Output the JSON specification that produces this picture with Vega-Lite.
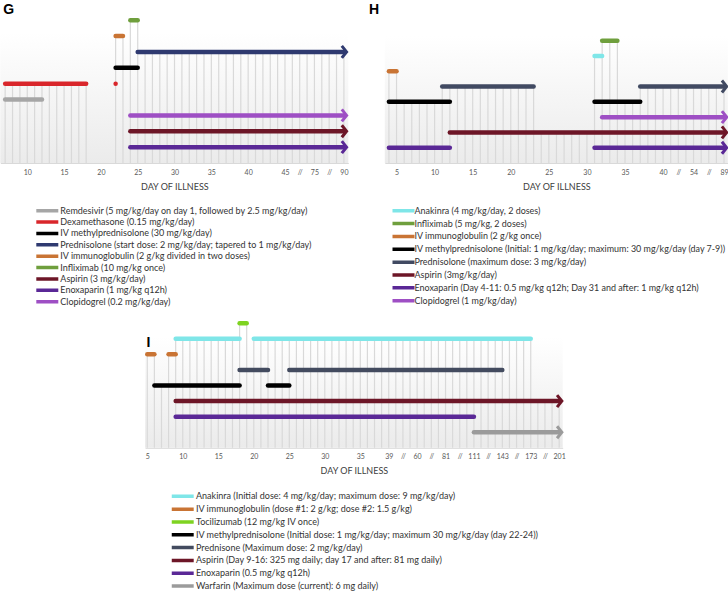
{
"$schema":"https://vega.github.io/schema/vega-lite/v6.json",
"padding":0,
"background":"white",
"config":{"view":{"stroke":null},"font":"Lato",
 "axisX":{"grid":false,"ticks":false,"domainColor":"#d9d9d9","labelFontSize":7,"labelColor":"#595959","labelPadding":5,"titleFontSize":9,"titleFontWeight":"normal","titleColor":"#404040","titlePadding":7,"labelFlush":false,"labelOverlap":false,"labelBound":false,"tickCount":200,"format":"d","labelFont":"Lato","titleFont":"Lato"},
 "legend":{"orient":"none","title":null,"symbolType":"M-4.4,0H4.4","symbolSize":25,"symbolStrokeWidth":3.5,"symbolOffset":7,"labelFontSize":9,"labelFont":"Lato","labelColor":"#333333","labelLimit":0,"padding":0,"clipHeight":11}},
"datasets":{
"bG":[
{"k":"Remdesivir (5 mg/kg/day on day 1, followed by 2.5 mg/kg/day)","s":7,"e":12,"r":4,"a":0},
{"k":"Dexamethasone (0.15 mg/kg/day)","s":7,"e":18,"r":5,"a":0},
{"k":"Dexamethasone (0.15 mg/kg/day)","s":22,"e":22,"r":5,"a":0},
{"k":"IV methylprednisolone (30 mg/kg/day)","s":22,"e":25,"r":6,"a":0},
{"k":"Prednisolone (start dose: 2 mg/kg/day; tapered to 1 mg/kg/day)","s":25,"e":53,"r":7,"a":1},
{"k":"IV immunoglobulin (2 g/kg divided in two doses)","s":22,"e":23,"r":8,"a":0},
{"k":"Infliximab (10 mg/kg once)","s":24,"e":25,"r":9,"a":0},
{"k":"Aspirin (3 mg/kg/day)","s":24,"e":53,"r":2,"a":1},
{"k":"Enoxaparin (1 mg/kg q12h)","s":24,"e":53,"r":1,"a":1},
{"k":"Clopidogrel (0.2 mg/kg/day)","s":24,"e":53,"r":3,"a":1}],
"bH":[
{"k":"Anakinra (4 mg/kg/day, 2 doses)","s":31,"e":32,"r":7,"a":0},
{"k":"Infliximab (5 mg/kg, 2 doses)","s":32,"e":34,"r":8,"a":0},
{"k":"IV immunoglobulin (2 g/kg once)","s":4,"e":5,"r":6,"a":0},
{"k":"IV methylprednisolone (Initial: 1 mg/kg/day; maximum: 30 mg/kg/day (day 7-9))","s":4,"e":12,"r":4,"a":0},
{"k":"IV methylprednisolone (Initial: 1 mg/kg/day; maximum: 30 mg/kg/day (day 7-9))","s":31,"e":37,"r":4,"a":0},
{"k":"Prednisolone (maximum dose: 3 mg/kg/day)","s":11,"e":23,"r":5,"a":0},
{"k":"Prednisolone (maximum dose: 3 mg/kg/day)","s":37,"e":48,"r":5,"a":1},
{"k":"Aspirin (3mg/kg/day)","s":12,"e":48,"r":2,"a":1},
{"k":"Enoxaparin (Day 4-11: 0.5 mg/kg q12h; Day 31 and after: 1 mg/kg q12h)","s":4,"e":12,"r":1,"a":0},
{"k":"Enoxaparin (Day 4-11: 0.5 mg/kg q12h; Day 31 and after: 1 mg/kg q12h)","s":31,"e":48,"r":1,"a":1},
{"k":"Clopidogrel (1 mg/kg/day)","s":32,"e":48,"r":3,"a":1}],
"bI":[
{"k":"Anakinra (Initial dose: 4 mg/kg/day; maximum dose: 9 mg/kg/day)","s":9,"e":18,"r":7,"a":0},
{"k":"Anakinra (Initial dose: 4 mg/kg/day; maximum dose: 9 mg/kg/day)","s":20,"e":59,"r":7,"a":0},
{"k":"IV immunoglobulin (dose #1: 2 g/kg; dose #2: 1.5 g/kg)","s":5,"e":6,"r":6,"a":0},
{"k":"IV immunoglobulin (dose #1: 2 g/kg; dose #2: 1.5 g/kg)","s":8,"e":9,"r":6,"a":0},
{"k":"Tocilizumab (12 mg/kg IV once)","s":18,"e":19,"r":8,"a":0},
{"k":"IV methylprednisolone (Initial dose: 1 mg/kg/day; maximum 30 mg/kg/day (day 22-24))","s":6,"e":18,"r":4,"a":0},
{"k":"IV methylprednisolone (Initial dose: 1 mg/kg/day; maximum 30 mg/kg/day (day 22-24))","s":22,"e":25,"r":4,"a":0},
{"k":"Prednisone (Maximum dose: 2 mg/kg/day)","s":18,"e":22,"r":5,"a":0},
{"k":"Prednisone (Maximum dose: 2 mg/kg/day)","s":25,"e":55,"r":5,"a":0},
{"k":"Aspirin (Day 9-16: 325 mg daily; day 17 and after: 81 mg daily)","s":9,"e":63,"r":3,"a":1},
{"k":"Enoxaparin (0.5 mg/kg q12h)","s":9,"e":51,"r":2,"a":0},
{"k":"Warfarin (Maximum dose (current): 6 mg daily)","s":51,"e":63,"r":1,"a":1}],
"dG":[{"d":7,"t":5},{"d":8,"t":5},{"d":9,"t":5},{"d":10,"t":5},{"d":11,"t":5},{"d":12,"t":5},{"d":13,"t":5},{"d":14,"t":5},{"d":15,"t":5},{"d":16,"t":5},{"d":17,"t":5},{"d":18,"t":5},
{"d":22,"t":8},{"d":23,"t":8},{"d":24,"t":9},{"d":25,"t":9},
{"d":26,"t":7},{"d":27,"t":7},{"d":28,"t":7},{"d":29,"t":7},{"d":30,"t":7},{"d":31,"t":7},{"d":32,"t":7},{"d":33,"t":7},{"d":34,"t":7},{"d":35,"t":7},{"d":36,"t":7},{"d":37,"t":7},{"d":38,"t":7},{"d":39,"t":7},{"d":40,"t":7},{"d":41,"t":7},{"d":42,"t":7},{"d":43,"t":7},{"d":44,"t":7},{"d":45,"t":7},{"d":46,"t":7},{"d":47,"t":7},{"d":48,"t":7},{"d":49,"t":7},{"d":50,"t":7},{"d":51,"t":7},{"d":52,"t":7},{"d":53,"t":7}],
"dH":[{"d":4,"t":6},{"d":5,"t":6},{"d":6,"t":4},{"d":7,"t":4},{"d":8,"t":4},{"d":9,"t":4},{"d":10,"t":4},
{"d":11,"t":5},{"d":12,"t":5},{"d":13,"t":5},{"d":14,"t":5},{"d":15,"t":5},{"d":16,"t":5},{"d":17,"t":5},{"d":18,"t":5},{"d":19,"t":5},{"d":20,"t":5},{"d":21,"t":5},{"d":22,"t":5},{"d":23,"t":5},
{"d":24,"t":2},{"d":25,"t":2},{"d":26,"t":2},{"d":27,"t":2},{"d":28,"t":2},{"d":29,"t":2},{"d":30,"t":2},
{"d":31,"t":7},{"d":32,"t":8},{"d":33,"t":8},{"d":34,"t":8},{"d":35,"t":4},{"d":36,"t":4},
{"d":37,"t":5},{"d":38,"t":5},{"d":39,"t":5},{"d":40,"t":5},{"d":41,"t":5},{"d":42,"t":5},{"d":43,"t":5},{"d":44,"t":5},{"d":45,"t":5},{"d":46,"t":5},{"d":47,"t":5},{"d":48,"t":5}],
"dI":[{"d":5,"t":6},{"d":6,"t":6},{"d":7,"t":4},{"d":8,"t":6},
{"d":9,"t":7},{"d":10,"t":7},{"d":11,"t":7},{"d":12,"t":7},{"d":13,"t":7},{"d":14,"t":7},{"d":15,"t":7},{"d":16,"t":7},{"d":17,"t":7},
{"d":18,"t":8},{"d":19,"t":8},
{"d":20,"t":7},{"d":21,"t":7},{"d":22,"t":7},{"d":23,"t":7},{"d":24,"t":7},{"d":25,"t":7},{"d":26,"t":7},{"d":27,"t":7},{"d":28,"t":7},{"d":29,"t":7},{"d":30,"t":7},{"d":31,"t":7},{"d":32,"t":7},{"d":33,"t":7},{"d":34,"t":7},{"d":35,"t":7},{"d":36,"t":7},{"d":37,"t":7},{"d":38,"t":7},{"d":39,"t":7},{"d":40,"t":7},{"d":41,"t":7},{"d":42,"t":7},{"d":43,"t":7},{"d":44,"t":7},{"d":45,"t":7},{"d":46,"t":7},{"d":47,"t":7},{"d":48,"t":7},{"d":49,"t":7},{"d":50,"t":7},{"d":51,"t":7},{"d":52,"t":7},{"d":53,"t":7},{"d":54,"t":7},{"d":55,"t":7},{"d":56,"t":7},{"d":57,"t":7},{"d":58,"t":7},{"d":59,"t":7},
{"d":60,"t":3},{"d":61,"t":3},{"d":62,"t":3},{"d":63,"t":3}]
},
"vconcat":[
{"hconcat":[
 {"width":348,"height":163,
  "layer":[
   {"data":{"values":[{}]},"mark":{"type":"rect","fill":{"gradient":"linear","x1":0,"y1":1,"x2":0,"y2":0,"stops":[{"offset":0,"color":"#ebebeb"},{"offset":1,"color":"#ffffff"}]}},
    "encoding":{"x":{"datum":6.34,"type":"quantitative","scale":{"domain":[6.34,53.6],"nice":false,"zero":false}},
     "x2":{"datum":53.6},
     "y":{"datum":8.2,"type":"quantitative","scale":{"domain":[0,10.27],"nice":false,"zero":false},"axis":null},"y2":{"datum":0}}},
   {"data":{"name":"dG"},"mark":{"type":"rule","color":"#d9d9d9","strokeWidth":1.2},
    "encoding":{"x":{"field":"d","type":"quantitative","axis":{"title":"DAY OF ILLNESS","format":"d","labelOverlap":false,"tickCount":200,"values":[10,15,20,25,30,35,40,45,47,49,51,53],"labelExpr":"datum.value==47||datum.value==51?'//':datum.value==49?'75':datum.value==53?'90':datum.label"}},"y":{"field":"t","type":"quantitative"},"y2":{"datum":0}}},
   {"data":{"name":"bG"},"mark":{"type":"rule","strokeWidth":4.5,"strokeCap":"round"},
    "encoding":{"x":{"field":"s","type":"quantitative"},"x2":{"field":"e"},"y":{"field":"r","type":"quantitative"},
     "color":{"field":"k","type":"nominal",
      "scale":{"domain":["Remdesivir (5 mg/kg/day on day 1, followed by 2.5 mg/kg/day)","Dexamethasone (0.15 mg/kg/day)","IV methylprednisolone (30 mg/kg/day)","Prednisolone (start dose: 2 mg/kg/day; tapered to 1 mg/kg/day)","IV immunoglobulin (2 g/kg divided in two doses)","Infliximab (10 mg/kg once)","Aspirin (3 mg/kg/day)","Enoxaparin (1 mg/kg q12h)","Clopidogrel (0.2 mg/kg/day)"],
       "range":["#a6a6a6","#d9262b","#000000","#2f3a70","#c97434","#6f9f3d","#6d1627","#5a2896","#9e4fc4"]},
      "legend":{"legendX":35.5,"legendY":205.2,"labelOffset":8.5,"rowPadding":0.375}}}},
   {"data":{"name":"bG"},"transform":[{"filter":"datum.a==1"}],"mark":{"type":"point","shape":"M-0.35,-1L0.45,0L-0.35,1","size":144,"strokeWidth":3,"filled":false,"opacity":1},
    "encoding":{"x":{"field":"e","type":"quantitative"},"y":{"field":"r","type":"quantitative"},"color":{"field":"k","type":"nominal","legend":null}}},
   {"data":{"values":[{}]},"mark":{"type":"text","text":"G","font":"Liberation Sans","fontSize":14,"fontWeight":"bold","align":"left","baseline":"middle"},
    "encoding":{"x":{"datum":6.75,"type":"quantitative"},"y":{"datum":9.64,"type":"quantitative"}}}
  ]},
 {"width":343,"height":163,
  "layer":[
   {"data":{"values":[{}]},"mark":{"type":"rect","fill":{"gradient":"linear","x1":0,"y1":1,"x2":0,"y2":0,"stops":[{"offset":0,"color":"#ebebeb"},{"offset":1,"color":"#ffffff"}]}},
    "encoding":{"x":{"datum":3.46,"type":"quantitative","scale":{"domain":[3.46,48.5],"nice":false,"zero":false}},
     "x2":{"datum":48.5},
     "y":{"datum":8.3,"type":"quantitative","scale":{"domain":[0,10.66],"nice":false,"zero":false},"axis":null},"y2":{"datum":0}}},
   {"data":{"name":"dH"},"mark":{"type":"rule","color":"#d9d9d9","strokeWidth":1.2},
    "encoding":{"x":{"field":"d","type":"quantitative","axis":{"title":"DAY OF ILLNESS","format":"d","labelOverlap":false,"tickCount":200,"values":[5,10,15,20,25,30,35,40,42,44,46,48],"labelExpr":"datum.value==42||datum.value==46?'//':datum.value==44?'54':datum.value==48?'89':datum.label"}},"y":{"field":"t","type":"quantitative"},"y2":{"datum":0}}},
   {"data":{"name":"bH"},"mark":{"type":"rule","strokeWidth":4.5,"strokeCap":"round"},
    "encoding":{"x":{"field":"s","type":"quantitative"},"x2":{"field":"e"},"y":{"field":"r","type":"quantitative"},
     "color":{"field":"k","type":"nominal",
      "scale":{"domain":["Anakinra (4 mg/kg/day, 2 doses)","Infliximab (5 mg/kg, 2 doses)","IV immunoglobulin (2 g/kg once)","IV methylprednisolone (Initial: 1 mg/kg/day; maximum: 30 mg/kg/day (day 7-9))","Prednisolone (maximum dose: 3 mg/kg/day)","Aspirin (3mg/kg/day)","Enoxaparin (Day 4-11: 0.5 mg/kg q12h; Day 31 and after: 1 mg/kg q12h)","Clopidogrel (1 mg/kg/day)"],
       "range":["#7fe6e8","#6f9f3d","#c97434","#000000","#414a62","#6d1627","#5a2896","#9e4fc4"]},
      "legend":{"legendX":7.2,"legendY":205.2,"labelOffset":6.5,"rowPadding":1.86,"labelFontSize":8.95}}}},
   {"data":{"name":"bH"},"transform":[{"filter":"datum.a==1"}],"mark":{"type":"point","shape":"M-0.35,-1L0.45,0L-0.35,1","size":144,"strokeWidth":3,"filled":false,"opacity":1},
    "encoding":{"x":{"field":"e","type":"quantitative"},"y":{"field":"r","type":"quantitative"},"color":{"field":"k","type":"nominal","legend":null}}},
   {"data":{"values":[{}]},"mark":{"type":"text","text":"H","font":"Liberation Sans","fontSize":14,"fontWeight":"bold","align":"left","baseline":"middle"},
    "encoding":{"x":{"datum":1.4,"type":"quantitative"},"y":{"datum":10.0,"type":"quantitative"}}}
  ]}
 ],
 "spacing":15.5,
 "resolve":{"scale":{"x":"independent","y":"independent","color":"independent"},"legend":{"color":"independent"}}
},
{"width":443,"height":130.5,
 "layer":[
   {"data":{"values":[{}]},"mark":{"type":"rect","fill":{"gradient":"linear","x1":0,"y1":1,"x2":0,"y2":0,"stops":[{"offset":0,"color":"#ebebeb"},{"offset":1,"color":"#ffffff"}]}},
    "encoding":{"x":{"datum":4.68,"type":"quantitative","scale":{"domain":[4.68,63.5],"range":[0,417.7],"nice":false,"zero":false}},
     "x2":{"datum":63.5},
     "y":{"datum":7.1,"type":"quantitative","scale":{"domain":[0,8.38],"nice":false,"zero":false},"axis":null},"y2":{"datum":0}}},
   {"data":{"name":"dI"},"mark":{"type":"rule","color":"#d9d9d9","strokeWidth":1.2},
    "encoding":{"x":{"field":"d","type":"quantitative","axis":{"title":"DAY OF ILLNESS","format":"d","labelOverlap":false,"tickCount":200,"values":[5,10,15,20,25,30,35,39,41,43,45,47,49,51,53,55,57,59,61,63],"labelExpr":"indexof([41,45,49,53,57,61],datum.value)>=0?'//':datum.value==43?'60':datum.value==47?'81':datum.value==51?'111':datum.value==55?'143':datum.value==59?'173':datum.value==63?'201':datum.label"}},"y":{"field":"t","type":"quantitative"},"y2":{"datum":0}}},
   {"data":{"name":"bI"},"mark":{"type":"rule","strokeWidth":4.5,"strokeCap":"round"},
    "encoding":{"x":{"field":"s","type":"quantitative"},"x2":{"field":"e"},"y":{"field":"r","type":"quantitative"},
     "color":{"field":"k","type":"nominal",
      "scale":{"domain":["Anakinra (Initial dose: 4 mg/kg/day; maximum dose: 9 mg/kg/day)","IV immunoglobulin (dose #1: 2 g/kg; dose #2: 1.5 g/kg)","Tocilizumab (12 mg/kg IV once)","IV methylprednisolone (Initial dose: 1 mg/kg/day; maximum 30 mg/kg/day (day 22-24))","Prednisone (Maximum dose: 2 mg/kg/day)","Aspirin (Day 9-16: 325 mg daily; day 17 and after: 81 mg daily)","Enoxaparin (0.5 mg/kg q12h)","Warfarin (Maximum dose (current): 6 mg daily)"],
       "range":["#7fe6e8","#c97434","#7ed321","#000000","#434b5f","#6d1627","#5a2896","#9b9b9b"]},
      "legend":{"legendX":26.2,"legendY":173.5,"labelOffset":8.8,"rowPadding":1.83}}}},
   {"data":{"name":"bI"},"transform":[{"filter":"datum.a==1"}],"mark":{"type":"point","shape":"M-0.35,-1L0.45,0L-0.35,1","size":144,"strokeWidth":3,"filled":false,"opacity":1},
    "encoding":{"x":{"field":"e","type":"quantitative"},"y":{"field":"r","type":"quantitative"},"color":{"field":"k","type":"nominal","legend":null}}},
   {"data":{"values":[{}]},"mark":{"type":"text","text":"I","font":"Liberation Sans","fontSize":14,"fontWeight":"bold","align":"left","baseline":"middle"},
    "encoding":{"x":{"datum":4.9,"type":"quantitative"},"y":{"datum":6.75,"type":"quantitative"}}}
 ]}
],
"spacing":9.3,
"center":true,
"resolve":{"scale":{"x":"independent","y":"independent","color":"independent"},"legend":{"color":"independent"}}
}
